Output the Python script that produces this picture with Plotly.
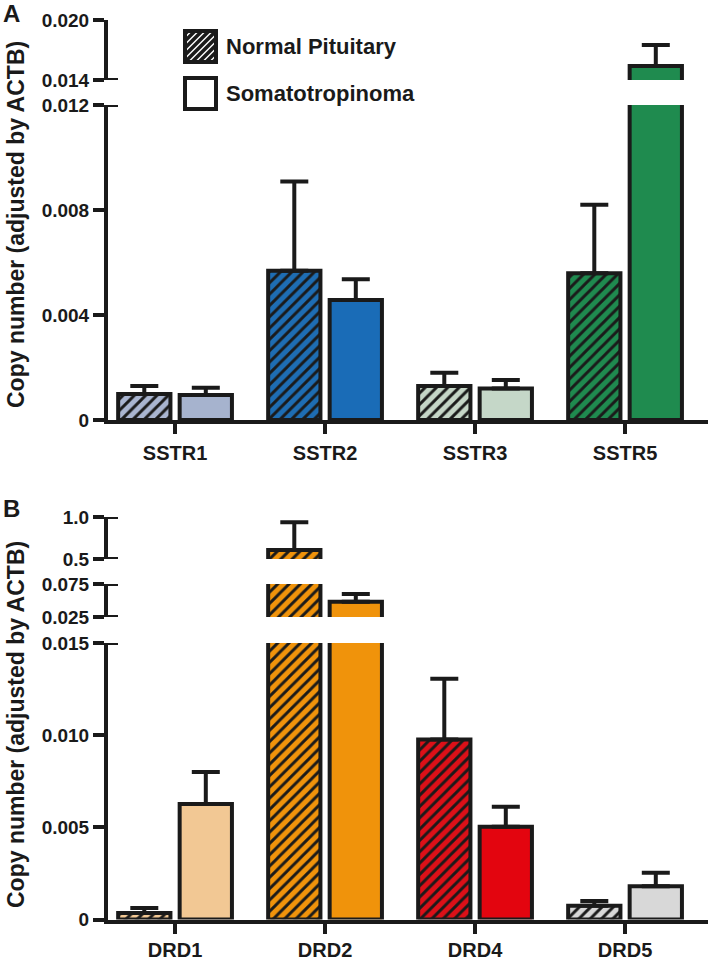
import plotly.graph_objects as go

W, H = 709, 960
INK = "#1a1a1a"
FONT = "Liberation Sans, Arial, sans-serif"

# ---------------- data ----------------
genes_a = ["SSTR1", "SSTR2", "SSTR3", "SSTR5"]
normal_a = [0.00099, 0.00569, 0.00130, 0.00559]
normal_a_err = [0.00031, 0.00340, 0.00050, 0.00261]
somato_a = [0.00095, 0.00457, 0.00120, 0.01540]
somato_a_err = [0.00028, 0.00079, 0.00032, 0.00210]
colors_a_normal = ["#a9b5d0", "#1e6db3", "#c5d6c7", "#1f8a4f"]
colors_a_somato = ["#a6b3ce", "#1a6cb7", "#c5d7c8", "#1f8b4f"]

genes_b = ["DRD1", "DRD2", "DRD4", "DRD5"]
normal_b = [0.00035, 0.607, 0.00976, 0.00074]
normal_b_err = [0.00028, 0.330, 0.00330, 0.00027]
somato_b = [0.00626, 0.048, 0.00503, 0.00180]
somato_b_err = [0.00174, 0.012, 0.00108, 0.00074]
colors_b_normal = ["#f2c894", "#f0930b", "#dc1018", "#d8d8d8"]
colors_b_somato = ["#f2c894", "#f0930b", "#e3050f", "#d8d8d8"]

# axis segments (broken axes)
a_lower_range = [0, 0.012]
a_lower_ticks = [0, 0.004, 0.008, 0.012]
a_lower_text = ["0", "0.004", "0.008", "0.012"]
a_upper_range = [0.014, 0.020]
a_upper_ticks = [0.014, 0.020]
a_upper_text = ["0.014", "0.020"]

b_lower_range = [0, 0.015]
b_lower_ticks = [0, 0.005, 0.010, 0.015]
b_lower_text = ["0", "0.005", "0.010", "0.015"]
b_mid_range = [0.025, 0.075]
b_mid_ticks = [0.025, 0.075]
b_mid_text = ["0.025", "0.075"]
b_top_range = [0.5, 1.0]
b_top_ticks = [0.5, 1.0]
b_top_text = ["0.5", "1.0"]

series_names = ["Normal Pituitary", "Somatotropinoma"]
y_title = "Copy number (adjusted by ACTB)"

# ---------------- layout helpers ----------------
AX_X = 108  # px where plot area starts
AX_END = 708


def ydom(top_px, bot_px):
    return [1 - bot_px / H, 1 - top_px / H]


def px(x):
    return x / W


def py(y):
    return 1 - y / H


fig = go.Figure()


def add_pair(cats, normal, nerr, somato, serr, cn, cs, xa, ya):
    # scalar marker colour so the pattern keeps its own bg/fg colours
    fig.add_trace(go.Bar(
        x=cats, y=normal, xaxis=xa, yaxis=ya, name=series_names[0],
        showlegend=False,
        marker=dict(color="white", line=dict(color=INK, width=4),
                    pattern=dict(shape="/", fgcolor=INK, bgcolor=cn, fgopacity=1,
                                 size=8, solidity=0.36, fillmode="replace")),
        error_y=dict(type="data", symmetric=False, array=nerr,
                     arrayminus=[0] * len(nerr), color=INK, thickness=4, width=14),
    ))
    fig.add_trace(go.Bar(
        x=cats, y=somato, xaxis=xa, yaxis=ya, name=series_names[1],
        showlegend=False,
        marker=dict(color=cs, line=dict(color=INK, width=4)),
        error_y=dict(type="data", symmetric=False, array=serr,
                     arrayminus=[0] * len(serr), color=INK, thickness=4, width=14),
    ))


# Panel A
add_pair(genes_a, normal_a, normal_a_err, somato_a, somato_a_err,
         colors_a_normal, colors_a_somato, "x", "y")
add_pair(genes_a, normal_a, normal_a_err, somato_a, somato_a_err,
         colors_a_normal, colors_a_somato, "x", "y2")
# Panel B
add_pair(genes_b, normal_b, normal_b_err, somato_b, somato_b_err,
         colors_b_normal, colors_b_somato, "x2", "y3")
add_pair(genes_b, normal_b, normal_b_err, somato_b, somato_b_err,
         colors_b_normal, colors_b_somato, "x2", "y4")
add_pair(genes_b, normal_b, normal_b_err, somato_b, somato_b_err,
         colors_b_normal, colors_b_somato, "x2", "y5")

tickfont = dict(family=FONT, size=19, color=INK, weight="bold")
catfont = dict(family=FONT, size=20, color=INK, weight="bold")
common = dict(showline=True, linewidth=4, linecolor=INK, ticks="outside",
              tickwidth=4, tickcolor=INK, showgrid=False,
              zeroline=False, fixedrange=True, automargin=False)

xr = [-0.447, 3.553]
fig.update_layout(
    template="none",
    width=W, height=H, margin=dict(l=0, r=0, t=0, b=0, pad=0),
    paper_bgcolor="white", plot_bgcolor="rgba(0,0,0,0)",
    barmode="group", bargap=0.18, bargroupgap=0.15,
    showlegend=False,
    xaxis=dict(domain=[px(AX_X), px(AX_END)], anchor="y", range=xr,
               tickfont=catfont, ticklen=10, ticklabelstandoff=2, **common),
    yaxis=dict(domain=ydom(105, 420), anchor="x", range=a_lower_range, ticklen=11,
               tickvals=a_lower_ticks, ticktext=a_lower_text, tickfont=tickfont, **common),
    yaxis2=dict(domain=ydom(20, 80), anchor="x", range=a_upper_range, ticklen=11,
                tickvals=a_upper_ticks, ticktext=a_upper_text, tickfont=tickfont, **common),
    xaxis2=dict(domain=[px(AX_X), px(AX_END)], anchor="y3", range=xr,
                tickfont=catfont, ticklen=10, ticklabelstandoff=-1, **common),
    yaxis3=dict(domain=ydom(643, 919.5), anchor="x2", range=b_lower_range, ticklen=11,
                tickvals=b_lower_ticks, ticktext=b_lower_text, tickfont=tickfont, **common),
    yaxis4=dict(domain=ydom(584, 617), anchor="x2", range=b_mid_range, ticklen=11,
                tickvals=b_mid_ticks, ticktext=b_mid_text, tickfont=tickfont, **common),
    yaxis5=dict(domain=ydom(517, 559), anchor="x2", range=b_top_range, ticklen=11,
                tickvals=b_top_ticks, ticktext=b_top_text, tickfont=tickfont, **common),
)

shapes = []
# inner halves of ticks at the axis breaks
for yref, val in [("y", a_lower_range[1]), ("y2", a_upper_range[0]),
                  ("y3", b_lower_range[1]), ("y4", b_mid_range[0]),
                  ("y4", b_mid_range[1]), ("y5", b_top_range[0]),
                  ("y5", b_top_range[1])]:
    shapes.append(dict(type="line", xref="paper", yref=yref,
                       x0=px(AX_X - 3), x1=px(AX_X + 10), y0=val, y1=val,
                       line=dict(color=INK, width=4)))

# legend swatches
bx0, bx1 = 185, 216
by0, by1 = 31, 62
shapes.append(dict(type="rect", xref="paper", yref="paper",
                   x0=px(bx0), x1=px(bx1), y0=py(by1), y1=py(by0),
                   fillcolor="white", line=dict(width=0)))
step = 7
c = bx0 + by0 + 3
while c < bx1 + by1:
    xa = max(bx0, c - by1)
    xb = min(bx1, c - by0)
    if xb > xa:
        shapes.append(dict(type="line", xref="paper", yref="paper",
                           x0=px(xa), y0=py(c - xa), x1=px(xb), y1=py(c - xb),
                           line=dict(color=INK, width=3.5)))
    c += step
shapes.append(dict(type="rect", xref="paper", yref="paper",
                   x0=px(bx0), x1=px(bx1), y0=py(by1), y1=py(by0),
                   fillcolor="rgba(0,0,0,0)", line=dict(color=INK, width=4)))
sy0, sy1 = 78, 109
shapes.append(dict(type="rect", xref="paper", yref="paper",
                   x0=px(bx0), x1=px(bx1), y0=py(sy1), y1=py(sy0),
                   fillcolor="white", line=dict(color=INK, width=4)))

annotations = []
legfont = dict(family=FONT, size=22, color=INK, weight="bold")
annotations.append(dict(text=series_names[0], xref="paper", yref="paper",
                        x=px(224), y=py(47), xanchor="left", yanchor="middle",
                        showarrow=False, font=legfont))
annotations.append(dict(text=series_names[1], xref="paper", yref="paper",
                        x=px(224), y=py(94), xanchor="left", yanchor="middle",
                        showarrow=False, font=legfont))
titlefont = dict(family=FONT, size=23, color=INK, weight="bold")
annotations.append(dict(text=y_title, xref="paper", yref="paper",
                        x=px(16), y=py(225), xanchor="center", yanchor="middle",
                        textangle=-90, showarrow=False, font=titlefont))
annotations.append(dict(text=y_title, xref="paper", yref="paper",
                        x=px(16), y=py(725), xanchor="center", yanchor="middle",
                        textangle=-90, showarrow=False, font=titlefont))
letterfont = dict(family=FONT, size=24, color=INK, weight="bold")
annotations.append(dict(text="A", xref="paper", yref="paper", x=px(11), y=py(13),
                        xanchor="center", yanchor="middle", showarrow=False, font=letterfont))
annotations.append(dict(text="B", xref="paper", yref="paper", x=px(11), y=py(508),
                        xanchor="center", yanchor="middle", showarrow=False, font=letterfont))

fig.update_layout(shapes=shapes, annotations=annotations)

fig.write_html(
    "out.html",
    config={"displayModeBar": False, "staticPlot": True},
    post_script="document.body.style.margin='0';document.body.style.overflow='hidden';",
)
